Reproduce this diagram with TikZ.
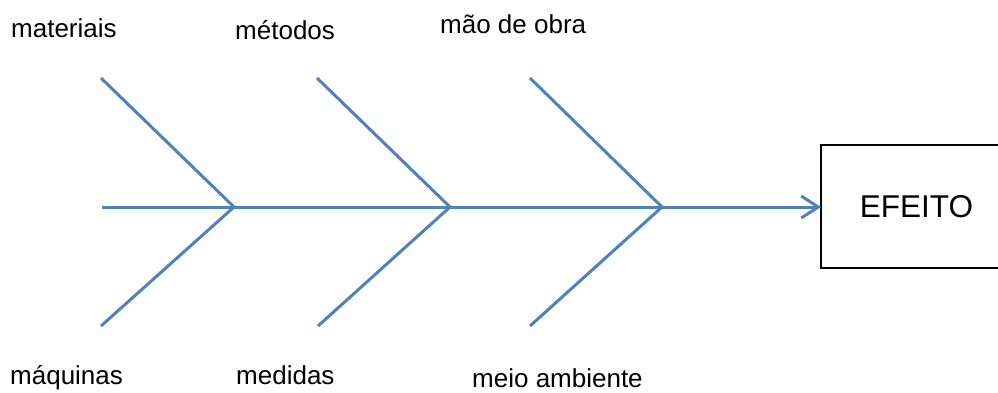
\documentclass[tikz,border=0pt]{standalone}
\usepackage{fontspec}
\setmainfont{Liberation Sans}
\usetikzlibrary{arrows.meta}
\definecolor{bone}{RGB}{79,129,189}
\tikzset{
	bonestyle/.style={draw=bone, line width=3pt},
	cause/.style={anchor=base west, inner sep=0pt, font=\fontsize{26}{29}\selectfont},
}

\begin{document}
\begin{tikzpicture}[x=1pt, y=-1pt]
	\useasboundingbox (0, 0) rectangle (998, 392);

	% spine and joints
	\coordinate (tail) at (102, 207);
	\coordinate (j1) at (234, 207);
	\coordinate (j2) at (450, 207);
	\coordinate (j3) at (662, 207);
	\coordinate (boxwest) at (821, 207);

	% effect box, running off the right edge
	\draw[line width=1.5pt] (998, 145) -- (821, 145) -- (821, 268) -- (998, 268);
	\node[font=\fontsize{31.5}{34}\selectfont] (efeito) at (916.5, 206.5) {EFEITO};

	% bone ends
	\coordinate (t1) at (101, 78);
	\coordinate (t2) at (317, 78);
	\coordinate (t3) at (530, 78);
	\coordinate (b1) at (101, 326);
	\coordinate (b2) at (318, 326);
	\coordinate (b3) at (530, 326);

	\draw[bonestyle, -{Straight Barb[length=17pt, width=22pt, line width=3pt]}] (tail) -- (boxwest);
	\draw[bonestyle] (t1) -- (j1) -- (b1);
	\draw[bonestyle] (t2) -- (j2) -- (b2);
	\draw[bonestyle] (t3) -- (j3) -- (b3);

	% labels
	\node[cause] (materiais) at (11, 37) {materiais};
	\node[cause] (metodos) at (235, 39) {métodos};
	\node[cause] (maodeobra) at (440, 33) {mão de obra};
	\node[cause] (maquinas) at (10, 384) {máquinas};
	\node[cause] (medidas) at (236, 384) {medidas};
	\node[cause] (meio) at (472, 387) {meio ambiente};
\end{tikzpicture}
\end{document}
